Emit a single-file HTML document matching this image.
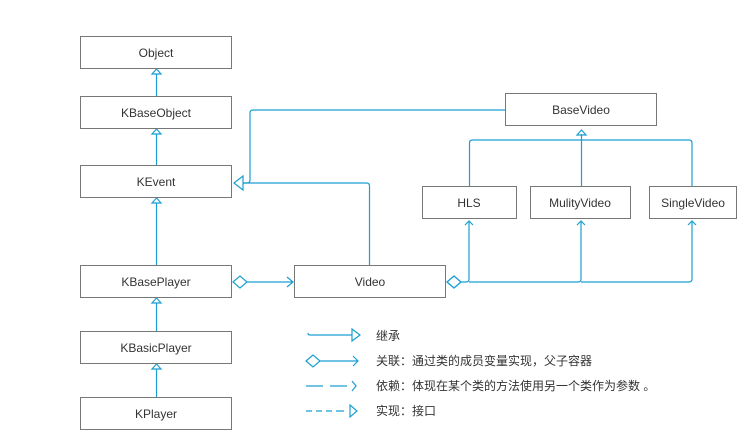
<!DOCTYPE html><html><head><meta charset="utf-8"><style>
body{margin:0;width:737px;height:431px;background:#fff;overflow:hidden}
svg text{font-family:"Liberation Sans","Noto Sans CJK SC",sans-serif;font-size:12px;fill:#333}
</style></head><body>
<svg width="737" height="431" viewBox="0 0 737 431">
<g fill="none" stroke="#1a9fd0" stroke-width="1.2">
<path d="M156.5 96V74M152 74l4.5-5 4.5 5z"/>
<path d="M156.5 165V134M152 134l4.5-5 4.5 5z"/>
<path d="M156.5 265V203M152 203l4.5-5 4.5 5z"/>
<path d="M156.5 331V303M152 303l4.5-5 4.5 5z"/>
<path d="M156.5 397V369M152 369l4.5-5 4.5 5z"/>
<path d="M505 110H253q-3 0-3 3V180q0 3-3 3H243"/>
<path d="M369.5 265V186q0-3-3-3H243M243 176l-9 7 9 7z"/>
<path d="M247 282H293M287 277l6 5-6 5M233 282l7-6 7 6-7 6z"/>
<path d="M469.5 186V143q0-3 3-3H689q3 0 3 3V186M581.5 186V134M577 135l4.5-5 4.5 5z"/>
<path d="M447 282l7-6 7 6-7 6z" stroke-width="1.4"/>
<path d="M461 282H466q3 0 3-3V221M465 225l4-4 4 4M469 282H578q3 0 3-3V221M577 225l4-4 4 4M581 282H689q3 0 3-3V221M688 225l4-4 4 4"/>
<path d="M308 333q0 2 2 2H352M352 329l8 6-8 6z"/>
<path d="M320 361H358M353 356l5 5-5 5M306 361l7-6 7 6-7 6z"/>
<path d="M306 386H323M330 386H347M352 381l4 5-4 5"/>
<path d="M306 411H312M316 411H322M326 411H332M336 411H344M350 405l7 6-7 6z"/>
</g>
<g fill="#fff" stroke="#777" stroke-width="1">
<rect x="80.5" y="36.5" width="151" height="32"/>
<rect x="80.5" y="96.5" width="151" height="32"/>
<rect x="80.5" y="165.5" width="151" height="32"/>
<rect x="80.5" y="265.5" width="151" height="32"/>
<rect x="80.5" y="331.5" width="151" height="32"/>
<rect x="80.5" y="397.5" width="151" height="32"/>
<rect x="294.5" y="265.5" width="151" height="32"/>
<rect x="505.5" y="93.5" width="151" height="32"/>
<rect x="422.5" y="186.5" width="94" height="32"/>
<rect x="530.5" y="186.5" width="100" height="32"/>
<rect x="649.5" y="186.5" width="87" height="32"/>
</g>
<g text-anchor="middle">
<text x="156" y="57">Object</text>
<text x="156" y="117">KBaseObject</text>
<text x="156" y="186">KEvent</text>
<text x="156" y="286">KBasePlayer</text>
<text x="156" y="352">KBasicPlayer</text>
<text x="156" y="418">KPlayer</text>
<text x="370" y="286">Video</text>
<text x="581" y="114">BaseVideo</text>
<text x="469" y="207">HLS</text>
<text x="580" y="207">MulityVideo</text>
<text x="693" y="207">SingleVideo</text>
</g>
<g>
<text x="376" y="340">继承</text>
<text x="376" y="365">关联：通过类的成员变量实现，父子容器</text>
<text x="376" y="390">依赖：体现在某个类的方法使用另一个类作为参数 。</text>
<text x="376" y="415">实现：接口</text>
</g>
</svg>
</body></html>
